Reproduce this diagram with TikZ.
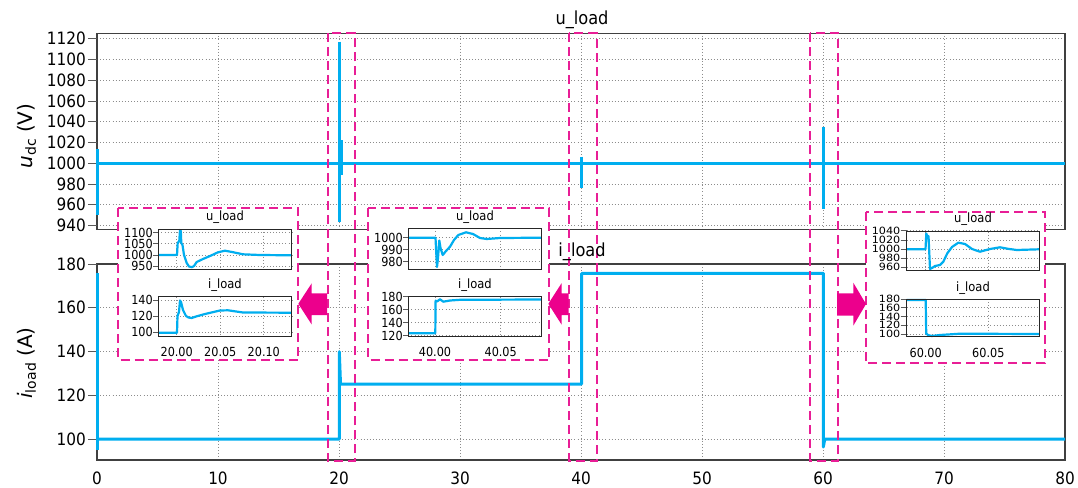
\documentclass[tikz,border=0pt]{standalone}
\usepackage{fontspec}
\setmainfont{DejaVu Sans}[FakeStretch=0.9]
\newfontfamily\labfont{DejaVu Sans}
\newfontfamily\widefont{DejaVu Sans}[FakeStretch=1.12]
\definecolor{cblue}{RGB}{0,174,239}
\definecolor{mag}{RGB}{232,30,150}
\definecolor{magf}{RGB}{236,0,140}
\tikzset{
  gridl/.style={draw=black!45, line width=0.9pt, dash pattern=on 0.9pt off 2.2pt},
  frame/.style={draw=black!75, line width=1.1pt},
  trace/.style={draw=cblue, line width=3pt, line join=round},
  itrace/.style={draw=cblue, line width=2.2pt, line join=round},
  magbox/.style={draw=mag, line width=1.8pt, dash pattern=on 9pt off 5pt},
  insetbox/.style={magbox, fill=white},
  ticklab/.style={font=\fontsize{17}{17}\selectfont, inner sep=0pt},
  itick/.style={font=\fontsize{12.5}{12.5}\selectfont, inner sep=0pt},
  itickc/.style={font=\widefont\fontsize{10}{10}\selectfont, inner sep=0pt},
  ititle/.style={font=\fontsize{12.8}{12.8}\selectfont, inner sep=0pt},
  mtitle/.style={font=\fontsize{18}{18}\selectfont, inner sep=0pt},
  tickmark/.style={draw=black!65, line width=1pt},
  iframe/.style={draw=black!85, line width=1pt},
  blockarrow/.style={fill=magf, draw=none}
}
\begin{document}
\begin{tikzpicture}[x=1pt,y=-1pt]
\useasboundingbox (0,0) rectangle (1078,487);

% ---------- main grids ----------
\foreach \v in {940,960,...,1120}
  \draw[gridl] (97,{163.3-(\v-1000)*1.0375}) -- (1065,{163.3-(\v-1000)*1.0375});
\foreach \a in {100,120,140,160}
  \draw[gridl] (97,{439-(\a-100)*2.1875}) -- (1065,{439-(\a-100)*2.1875});
\foreach \t in {10,20,...,70} {
  \draw[gridl] ({97+12.1*\t},33.3) -- ({97+12.1*\t},229.3);
  \draw[gridl] ({97+12.1*\t},264) -- ({97+12.1*\t},460);
}

% ---------- frames ----------
\draw[frame] (97,33.3) rectangle (1065,229.3);
\draw[frame] (97,264) rectangle (1065,460);

% ---------- y ticks and labels ----------
\foreach \v in {940,960,...,1120} {
  \draw[tickmark] (88,{163.3-(\v-1000)*1.0375}) -- (97,{163.3-(\v-1000)*1.0375});
  \node[ticklab, anchor=east] (tu\v) at (86,{163.3-(\v-1000)*1.0375}) {\v};
}
\foreach \a in {100,120,...,180} {
  \draw[tickmark] (88,{439-(\a-100)*2.1875}) -- (97,{439-(\a-100)*2.1875});
  \node[ticklab, anchor=east] (ti\a) at (86,{439-(\a-100)*2.1875}) {\a};
}
\foreach \t in {0,10,...,80}
  \node[ticklab] (xt\t) at ({97+12.1*\t},478) {\t};

% ---------- axis labels ----------
\node[rotate=90, inner sep=0pt, font=\labfont\fontsize{20}{20}\selectfont] (ylu) at (27,136)
  {\textit{u}\raisebox{-3pt}{\fontsize{14}{14}\selectfont dc} (V)};
\node[rotate=90, inner sep=0pt, font=\labfont\fontsize{20}{20}\selectfont] (yli) at (27,363)
  {\textit{i}\raisebox{-3pt}{\fontsize{14}{14}\selectfont load} (A)};

% ---------- main traces ----------
\draw[trace] (97,163.3) -- (1065,163.3);
\draw[trace] (97.7,149) -- (97.7,215);
\draw[trace] (339.3,41.7) -- (339.3,222);
\draw[trace] (341.3,140) -- (341.3,175);
\draw[trace] (581.7,156.7) -- (581.7,188.3);
\draw[trace] (823.3,127.3) -- (823.3,209);

\draw[trace] (97.7,273) -- (97.7,450);
\draw[trace] (97.7,439) -- (339.3,439) -- (339.3,351.7) -- (340.5,384) -- (581.7,384)
  -- (581.7,273.3) -- (823.3,273.3) -- (823.3,447) -- (824.8,439) -- (1065,439);

% ---------- highlight rectangles ----------
\draw[magbox] (327.7,33.3) rectangle (355,460.7);
\draw[magbox] (569,33.3) rectangle (596.7,460.7);
\draw[magbox] (810,33.3) rectangle (838,460.7);

% ---------- titles ----------
\node[mtitle] (titu) at (582,20) {u\_load};
\node[mtitle] (titi) at (582,252) {i\_load};

% ================= inset 1 =================
\draw[insetbox] (118.3,208.3) rectangle (298.3,360);
\node[ititle] (i1tu) at (225,216.7) {u\_load};
\node[ititle] (i1ti) at (225,285) {i\_load};
\foreach \v/\y [count=\k] in {1100/232.5,1050/243.8,1000/255,950/266.2} {
  \draw[gridl] (158.3,\y) -- (291.7,\y);
  \draw[tickmark] (153.3,\y) -- (158.3,\y);
  \node[itick, anchor=east] (i1u\k) at (153,\y) {\v};
}
\foreach \v/\y [count=\k] in {140/300,120/316.2,100/332.3} {
  \draw[gridl] (158.3,\y) -- (291.7,\y);
  \draw[tickmark] (153.3,\y) -- (158.3,\y);
  \node[itick, anchor=east] (i1i\k) at (153,\y) {\v};
}
\foreach \l/\x [count=\k] in {20.00/176.7,20.05/220.3,20.10/263.8} {
  \draw[gridl] (\x,229.3) -- (\x,269);
  \draw[gridl] (\x,296.7) -- (\x,336.7);
  \node[itick] (i1x\k) at (\x,351.7) {\l};
}
\draw[itrace] (158.3,255) -- (177,255) -- (177.7,243) -- (179.3,241) -- (180,230) -- (180.8,231)
  -- (181.3,243) -- (182.5,245) -- (184,255) -- (186.7,263) -- (189,266.5) -- (192,267.2)
  -- (194,266) -- (196.7,262) -- (203,259) -- (210,256) -- (218,252.3) -- (225,250.7)
  -- (232,252) -- (243,254.3) -- (260,255) -- (291.7,255.3);
\draw[itrace] (158.3,332.7) -- (177,332.7) -- (177.5,316) -- (179,312) -- (180,300.5) -- (181,302)
  -- (183,310) -- (186,316) -- (188.5,317.5) -- (191.7,318) -- (196,316.5) -- (205,314)
  -- (220,310.5) -- (228,310.3) -- (243,312.5) -- (291.7,312.7);
\draw[iframe] (158.3,229.3) rectangle (291.7,269);
\draw[iframe] (158.3,296.7) rectangle (291.7,336.7);

% ================= inset 2 =================
\draw[insetbox] (368.3,208.3) rectangle (549.3,360);
\node[ititle] (i2tu) at (475,216.7) {u\_load};
\node[ititle] (i2ti) at (475,285) {i\_load};
\foreach \v/\y [count=\k] in {1000/237.7,990/249.7,980/261.7} {
  \draw[gridl] (408.3,\y) -- (541,\y);
  \draw[tickmark] (403.3,\y) -- (408.3,\y);
  \node[itick, anchor=east] (i2u\k) at (403,\y) {\v};
}
\foreach \v/\y [count=\k] in {180/296.7,160/309.7,140/322.7,120/335.7} {
  \draw[gridl] (408.3,\y) -- (541,\y);
  \draw[tickmark] (403.3,\y) -- (408.3,\y);
  \node[itick, anchor=east] (i2i\k) at (403,\y) {\v};
}
\foreach \l/\x [count=\k] in {40.00/435,40.05/500.7} {
  \draw[gridl] (\x,228.3) -- (\x,269);
  \draw[gridl] (\x,296.7) -- (\x,336.7);
  \node[itick] (i2x\k) at (\x,351.7) {\l};
}
\draw[itrace] (408.3,237.7) -- (435.5,237.7) -- (436.2,252) -- (437,267) -- (438,258) -- (439.3,240.5)
  -- (440.5,248) -- (442.7,255) -- (446,251) -- (450,246.7) -- (454,240) -- (458.3,235)
  -- (466,232.3) -- (473,234) -- (480,238) -- (486.7,239) -- (500,238) -- (541,237.7);
\draw[itrace] (408.3,333.3) -- (435.3,333.3) -- (435.6,300.7) -- (437,301.5) -- (440,299.3)
  -- (443.3,301.7) -- (450,300.5) -- (460,299.8) -- (541,299.5);
\draw[iframe] (408.3,228.3) rectangle (541,269);
\draw[iframe] (408.3,296.7) rectangle (541,336.7);

% ================= inset 3 =================
\draw[insetbox] (866,211.7) rectangle (1045,363.3);
\node[ititle] (i3tu) at (973,219.5) {u\_load};
\node[ititle] (i3ti) at (973,288.3) {i\_load};
\foreach \v/\y [count=\k] in {1040/230.7,1020/240,1000/249.3,980/258.3,960/267.3} {
  \draw[gridl] (906.7,\y) -- (1039,\y);
  \draw[tickmark] (900.7,\y) -- (906.7,\y);
  \node[itickc, anchor=east] (i3u\k) at (900.5,\y) {\v};
}
\foreach \v/\y [count=\k] in {180/299,160/307.7,140/316.5,120/325.3,100/334} {
  \draw[gridl] (906.7,\y) -- (1039,\y);
  \draw[tickmark] (900.7,\y) -- (906.7,\y);
  \node[itickc, anchor=east] (i3i\k) at (900.5,\y) {\v};
}
\foreach \l/\x [count=\k] in {60.00/925.7,60.05/988.3} {
  \draw[gridl] (\x,231.7) -- (\x,270.7);
  \draw[gridl] (\x,299) -- (\x,336.7);
  \node[itick] (i3x\k) at (\x,352.7) {\l};
}
\draw[itrace] (906.7,249.3) -- (925.5,249.3) -- (926.3,233.5) -- (927.7,238.3) -- (928.5,236)
  -- (930,269) -- (932,268) -- (935,266) -- (940,265) -- (943.3,261.7) -- (947.3,253.3)
  -- (952,247) -- (958.3,242.7) -- (965,244) -- (972,249) -- (980,251.7) -- (990,249)
  -- (1000,247.3) -- (1008,248.8) -- (1016.7,250) -- (1039,249.3);
\draw[itrace] (906.7,300) -- (925.7,300) -- (926.2,333.5) -- (928,335) -- (931.7,336)
  -- (940,335) -- (960,333.7) -- (1039,334);
\draw[iframe] (906.7,231.7) rectangle (1039,270.7);
\draw[iframe] (906.7,299) rectangle (1039,336.7);

% ---------- block arrows ----------
\fill[blockarrow] (298.3,303.8) -- (311.7,283.3) -- (311.7,293.3) -- (327,293.3) -- (327,315)
  -- (311.7,315) -- (311.7,324.5) -- cycle;
\fill[blockarrow] (548.3,303.8) -- (561.5,283.3) -- (561.5,293.3) -- (568.5,293.3) -- (568.5,315)
  -- (561.5,315) -- (561.5,324.5) -- cycle;
\fill[blockarrow] (866,304) -- (853.3,282.7) -- (853.3,293.3) -- (837,293.3) -- (837,315.5)
  -- (853.3,315.5) -- (853.3,325.7) -- cycle;
\end{tikzpicture}
\end{document}
